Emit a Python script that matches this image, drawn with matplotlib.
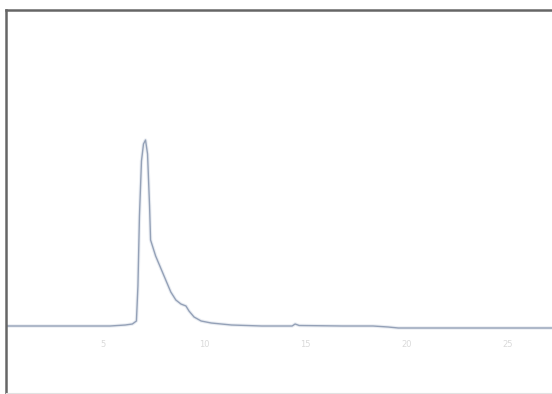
import numpy as np
import matplotlib.pyplot as plt

# chromatogram trace (time in min, signal in arbitrary units)
t = [0.25, 2.85, 5.35, 6.1, 6.45, 6.65, 6.725, 6.8, 6.9, 7.0, 7.1, 7.2, 7.3, 7.35,
     7.6, 7.85, 8.1, 8.35, 8.6, 8.85, 9.1, 9.25, 9.5, 9.85, 10.35, 11.35, 12.85,
     14.35, 14.5, 14.7, 16.85, 18.35, 19.1, 19.6, 27.45]
signal = [0, 0, 0, 1, 2, 5, 40, 110, 165, 182, 186, 172, 120, 86,
          70, 58, 46, 34, 26, 22, 20, 15, 9, 5, 3, 1, 0,
          0, 2, 0.5, 0, 0, -1, -2, -2]

xticks = [5, 10, 15, 20, 25]
xticklabels = ['5', '10', '15', '20', '25']

fig = plt.figure(figsize=(5.52, 3.94), dpi=100)
ax = fig.add_axes([6/552, 1/394, 1.0, 383/394])

ax.plot(t, signal, color='#8593ab', lw=1.0)
# faded halo like the scanned trace
ax.plot(t, signal, color='#b9c4d6', lw=2.5, alpha=0.3)

ax.set_xlim(0.2, 27.5)
ax.set_ylim(-67, 316)

ax.set_xticks(xticks)
ax.set_xticklabels(xticklabels, color='#dadada', fontsize=6)
ax.tick_params(axis='x', direction='in', length=0, pad=-38)
ax.set_yticks([])

for s in ['left', 'top']:
    ax.spines[s].set_color('#666666')
    ax.spines[s].set_linewidth(1.8)
ax.spines['bottom'].set_color('#e2e2e2')
ax.spines['bottom'].set_linewidth(0.8)
ax.spines['right'].set_visible(False)

plt.savefig('out.png', dpi=100)
